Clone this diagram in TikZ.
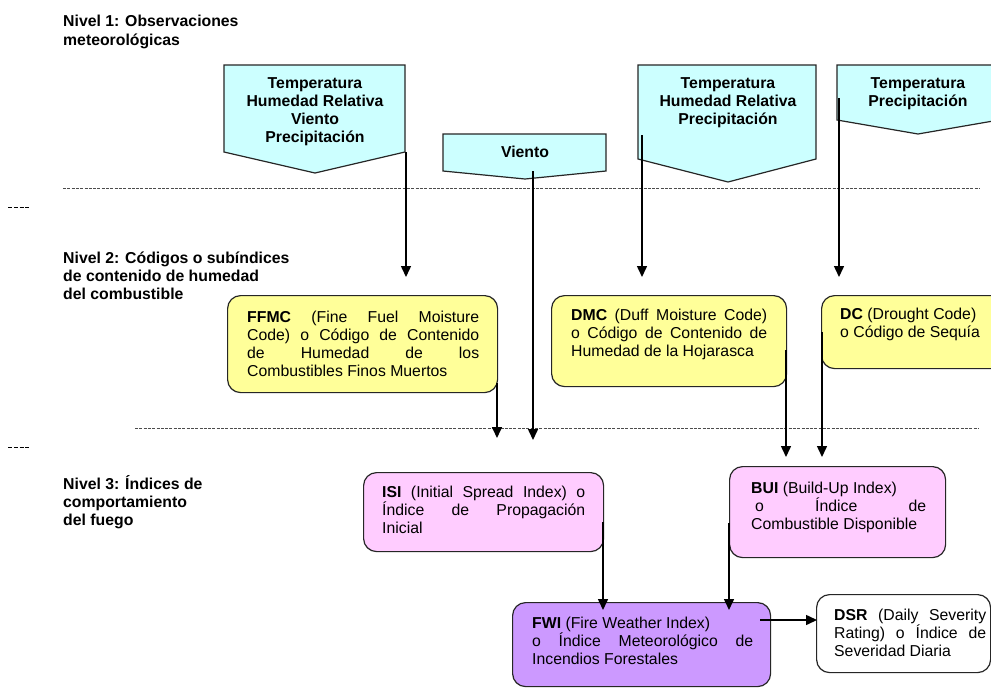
\documentclass[tikz,border=0pt]{standalone}
\usepackage{fontspec}
\setmainfont{Liberation Sans}
\usetikzlibrary{arrows.meta}
\definecolor{cyanf}{HTML}{CCFFFF}
\definecolor{yelf}{HTML}{FFFF99}
\definecolor{pinkf}{HTML}{FFCCFF}
\definecolor{purpf}{HTML}{CC99FF}
\definecolor{edgec}{HTML}{262626}
\newcommand{\jl}[2]{\makebox[#1pt][s]{#2}}
\begin{document}
\begin{tikzpicture}[x=1pt,y=-1pt,
  font=\fontsize{15.8}{18.3}\selectfont,
  pent/.style={draw=edgec,line width=1.2pt,fill=cyanf},
  rbox/.style={draw=edgec,line width=1.2pt,rounded corners=13pt,inner sep=0pt,anchor=north west},
  ptxt/.style={anchor=base,align=center,inner sep=0pt,font=\fontsize{15.8}{18.3}\selectfont\bfseries},
  ttl/.style={anchor=base west,align=left,inner sep=0pt,font=\fontsize{15.8}{18.3}\selectfont\bfseries},
  btxt/.style={anchor=base west,align=left,inner sep=0pt},
  arr/.style={line width=1.5pt,draw=black,-{Triangle[length=11pt,width=10pt]}},
  sepline/.style={draw=black!70,line width=0.6pt,dash pattern=on 3pt off 1.3pt},
  shortdash/.style={draw=black,line width=0.7pt,dash pattern=on 4pt off 1.8pt}]
\useasboundingbox (0,0) rectangle (991,688);
\clip (0,0) rectangle (991,688);
\fill[white] (0,0) rectangle (991,688);

% separators
\draw[sepline] (63,188) -- (979,188);
\draw[sepline] (135,428) -- (979,428);
\draw[shortdash] (8,207) -- (31,207);
\draw[shortdash] (8,447) -- (31,447);

% titles (anchored at the baseline of the last line)
\node[ttl] (t1) at (63,45.3) {Nivel 1: Observaciones\\meteorológicas};
\node[ttl] (t2) at (63,299.6) {Nivel 2: Códigos o subíndices\\de contenido de humedad\\del combustible};
\node[ttl] (t3) at (63,525.6) {Nivel 3: Índices de\\comportamiento\\del fuego};

% level 1 pentagons
\draw[pent] (224,65) -- (405,65) -- (405,152) -- (315,173) -- (224,152) -- cycle;
\draw[pent] (443,134) -- (606,134) -- (606,171) -- (525,179) -- (443,171) -- cycle;
\draw[pent] (638,65) -- (816,65) -- (816,159) -- (728,182) -- (638,159) -- cycle;
\draw[pent] (837,65) -- (999,65) -- (999,120) -- (918,134) -- (837,120) -- cycle;
\node[ptxt] (p1) at (315,142.9) {Temperatura\\Humedad Relativa\\Viento\\Precipitación};
\node[ptxt] (p2) at (525,157) {Viento};
\node[ptxt] (p3) at (728,124.6) {Temperatura\\Humedad Relativa\\Precipitación};
\node[ptxt] (p4) at (918,106.3) {Temperatura\\Precipitación};

% level 2 boxes
\node[rbox,fill=yelf,minimum width=270pt,minimum height=97pt] (ffmc) at (227,295) {};
\node[rbox,fill=yelf,minimum width=235pt,minimum height=91pt] (dmc) at (551,295) {};
\node[rbox,fill=yelf,minimum width=190pt,minimum height=73pt] (dc) at (821,295) {};
\node[btxt] (ffmct) at (247,376.9) {\jl{232}{\textbf{FFMC} (Fine Fuel Moisture}\\\jl{232}{Code) o Código de Contenido}\\\jl{232}{de Humedad de los}\\Combustibles Finos Muertos};
\node[btxt] (dmct) at (571,356.6) {\jl{196}{\textbf{DMC} (Duff Moisture Code)}\\\jl{196}{o Código de Contenido de}\\Humedad de la Hojarasca};
\node[btxt] (dct) at (840,337.3) {\textbf{DC} (Drought Code)\\o Código de Sequía};

% level 3 boxes
\node[rbox,fill=pinkf,minimum width=240pt,minimum height=79pt] (isi) at (363,472) {};
\node[rbox,fill=pinkf,minimum width=216pt,minimum height=91pt] (bui) at (729,466) {};
\node[rbox,fill=purpf,minimum width=258pt,minimum height=84pt] (fwi) at (512,602) {};
\node[rbox,fill=white,minimum width=174pt,minimum height=78pt] (dsr) at (816,594) {};
\node[btxt] (isit) at (382,533.6) {\jl{203}{\textbf{ISI} (Initial Spread Index) o}\\\jl{203}{Índice de Propagación}\\Inicial};
\node[btxt] (buit) at (751,529.6) {\textbf{BUI} (Build-Up Index)\\\jl{175}{\hspace{4pt}o Índice de}\\Combustible Disponible};
\node[btxt] (fwit) at (532,664.6) {\textbf{FWI} (Fire Weather Index)\\\jl{221}{o Índice Meteorológico de}\\Incendios Forestales};
\node[btxt] (dsrt) at (834,656.6) {\jl{152}{\textbf{DSR} (Daily Severity}\\\jl{152}{Rating) o Índice de}\\Severidad Diaria};

% connector end points
\coordinate (a1s) at (406,152);  \coordinate (a1e) at (406,277);
\coordinate (a2s) at (533,171);  \coordinate (a2e) at (533,440);
\coordinate (a3s) at (642,135);  \coordinate (a3e) at (642,277);
\coordinate (a4s) at (839,98);   \coordinate (a4e) at (839,277);
\coordinate (a5s) at (497,383);  \coordinate (a5e) at (497,438);
\coordinate (a6s) at (786,350);  \coordinate (a6e) at (786,457);
\coordinate (a7s) at (822,332);  \coordinate (a7e) at (822,457);
\coordinate (a8s) at (603,522);  \coordinate (a8e) at (603,610);
\coordinate (a9s) at (729,523);  \coordinate (a9e) at (729,610);
\coordinate (a10s) at (760,620); \coordinate (a10e) at (817,620);

\foreach \n in {1,...,10} {\draw[arr] (a\n s) -- (a\n e);}
\end{tikzpicture}
\end{document}
